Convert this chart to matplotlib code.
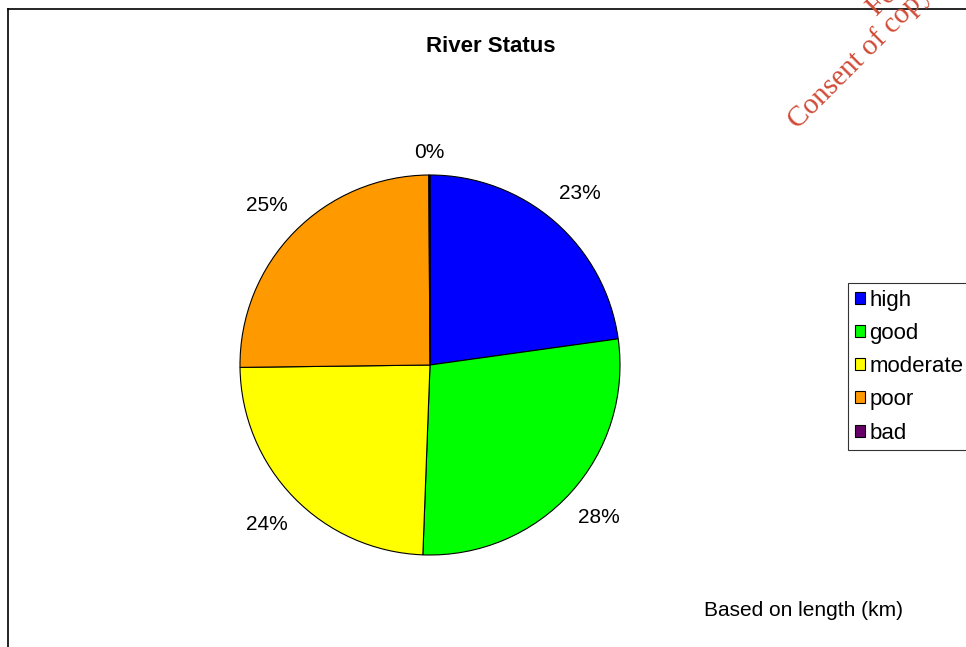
import numpy as np
import matplotlib
matplotlib.use("Agg")
import matplotlib.pyplot as plt
from matplotlib.lines import Line2D

plt.rcParams['font.family'] = ['Liberation Sans', 'DejaVu Sans']

# data
categories = ['high', 'good', 'moderate', 'poor', 'bad']
shares = [22.8, 27.8, 24.2, 25.1, 0.1]
colours = ['#0000FF', '#00FF00', '#FFFF00', '#FF9900', '#660066']

W, H = 966, 647
fig = plt.figure(figsize=(W / 100, H / 100), dpi=100)

# pie centre (430, 365) px, radius 190 px
cx, cy, r = 430, 365, 190
ax = fig.add_axes([(cx - r) / W, (H - cy - r) / H, 2 * r / W, 2 * r / H])
wedges, texts = ax.pie(shares, colors=colours, startangle=90, counterclock=False,
                       labels=[f'{v:.0f}%' for v in shares], labeldistance=1.2,
                       wedgeprops=dict(edgecolor='black', linewidth=0.8),
                       textprops=dict(fontsize=15))
# centre the labels on their spots, the tiny slice label sits a bit closer
for w, t in zip(wedges, texts):
    t.set_ha('center')
    t.set_va('center')
    ang = np.deg2rad((w.theta1 + w.theta2) / 2)
    d = 1.2 if abs(np.sin(ang)) < 0.99 else 1.12
    t.set_position((d * np.cos(ang), d * np.sin(ang)))
ax.set_xlim(-1, 1)
ax.set_ylim(-1, 1)
ax.set_aspect('equal')
ax.axis('off')

# title and note
fig.text(491 / W, 1 - 47 / H, 'River Status', ha='center', va='center',
         fontsize=16, fontweight='bold')
fig.text(804 / W, 1 - 610 / H, 'Based on length (km)', ha='center', va='center',
         fontsize=15)

# legend
leg = fig.legend(wedges, categories, loc='upper left',
                 bbox_to_anchor=(848 / W, 1 - 283 / H), fontsize=16,
                 frameon=True, fancybox=False, edgecolor='black',
                 handlelength=0.45, handleheight=0.45, handletextpad=0.2,
                 labelspacing=0.55, borderpad=0.3, borderaxespad=0)
leg.get_frame().set_linewidth(0.8)

# chart border (top and left only, rest cut off)
fig.add_artist(Line2D([8 / W, 1], [1 - 9 / H, 1 - 9 / H], color='black', lw=1.2))
fig.add_artist(Line2D([8 / W, 8 / W], [0, 1 - 9 / H], color='black', lw=1.2))

# watermark
fig.text(798 / W, 1 - 130 / H, 'Consent of copyright owner required for any other use.',
         rotation=45, color='#D04A35', fontsize=21, family='Liberation Serif',
         ha='left', va='baseline', rotation_mode='anchor')
fig.text(877 / W, 1 - 17 / H, 'For inspection purposes only.',
         rotation=45, color='#D04A35', fontsize=21, family='Liberation Serif',
         ha='left', va='baseline', rotation_mode='anchor')

fig.savefig('out.png', dpi=100, facecolor='white')
